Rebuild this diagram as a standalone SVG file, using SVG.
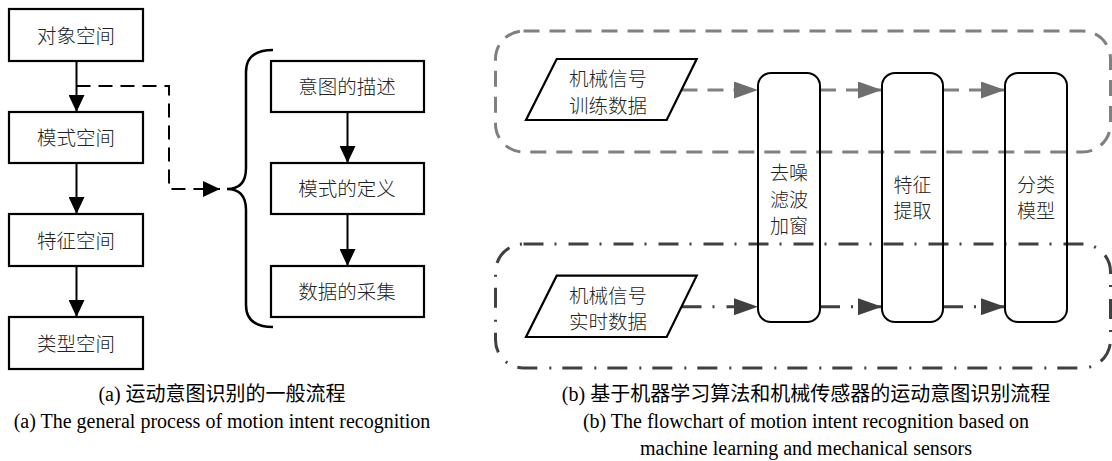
<svg xmlns="http://www.w3.org/2000/svg" width="1112" height="461" viewBox="0 0 1112 461">
<defs>
<style>
.box{fill:#fff;stroke:#000;stroke-width:2.2}
.rbox{fill:none;stroke:#000;stroke-width:2}
.t{font-family:"Noto Sans CJK SC","Liberation Sans",sans-serif;font-size:19.5px;font-weight:300;fill:#222;text-anchor:middle}
.t2{font-family:"Noto Sans CJK SC","Liberation Sans",sans-serif;font-size:19px;font-weight:300;fill:#222;text-anchor:middle}
.cap{font-family:"Liberation Serif","Noto Sans CJK SC",serif;font-size:20px;fill:#000;text-anchor:middle}
.capE{font-family:"Liberation Serif",serif;font-size:20px;fill:#000;text-anchor:middle}
.ln{fill:none;stroke:#000;stroke-width:2}
.dash{stroke-dasharray:14 8}
.gdash{fill:none;stroke:#808080;stroke-width:3;stroke-dasharray:16 10}
.dd{fill:none;stroke:#404040;stroke-width:3;stroke-dasharray:20 11 2 12}
</style>
<marker id="ah" markerUnits="userSpaceOnUse" markerWidth="17" markerHeight="16" refX="17" refY="8" orient="auto"><path d="M0,0 L17,8 L0,16 z" fill="#000"/></marker>
<marker id="ahg" markerUnits="userSpaceOnUse" markerWidth="24" markerHeight="17" refX="24" refY="8.5" orient="auto"><path d="M0,0 L24,8.5 L0,17 z" fill="#6e6e6e"/></marker>
<marker id="ahd" markerUnits="userSpaceOnUse" markerWidth="24" markerHeight="17" refX="24" refY="8.5" orient="auto"><path d="M0,0 L24,8.5 L0,17 z" fill="#404040"/></marker>
</defs>
<rect width="1112" height="461" fill="#fff"/>

<g id="train-group"><rect x="495.5" y="31" width="615" height="121" rx="28" ry="28" class="gdash"/></g>
<g id="realtime-group"><rect x="495.5" y="244" width="615" height="124" rx="28" ry="28" class="dd"/></g>

<g id="connectors">
<path class="ln" d="M76.5,61 V112" marker-end="url(#ah)"/>
<path class="ln" d="M76.5,163 V214" marker-end="url(#ah)"/>
<path class="ln" d="M76.5,266 V317" marker-end="url(#ah)"/>
<path class="ln dash" d="M76.5,86 H169 V189 H220" marker-end="url(#ah)"/>
<path class="ln" d="M347.5,112 V163" marker-end="url(#ah)"/>
<path class="ln" d="M347.5,214 V266" marker-end="url(#ah)"/>
<path d="M273,50 Q246,50 246,72 L246,168 Q246,189 227,189 Q246,189 246,210 L246,305 Q246,327 273,327" fill="none" stroke="#000" stroke-width="2.5"/>
<path class="gdash" d="M681.5,90 H758" marker-end="url(#ahg)"/>
<path class="gdash" d="M820,90 H882" marker-end="url(#ahg)"/>
<path class="gdash" d="M943,90 H1005" marker-end="url(#ahg)"/>
<path class="dd" d="M681.5,306.7 H758" marker-end="url(#ahd)"/>
<path class="dd" d="M820,306.7 H882" marker-end="url(#ahd)"/>
<path class="dd" d="M943,306.7 H1005" marker-end="url(#ahd)"/>
</g>

<g id="n-object"><rect class="box" x="9" y="9" width="134" height="52"/><text class="t" x="76" y="43">对象空间</text></g>
<g id="n-pattern"><rect class="box" x="9" y="112" width="134" height="51"/><text class="t" x="76" y="145">模式空间</text></g>
<g id="n-feature"><rect class="box" x="9" y="214" width="134" height="52"/><text class="t" x="76" y="247.5">特征空间</text></g>
<g id="n-type"><rect class="box" x="9" y="317" width="134" height="52"/><text class="t" x="76" y="350.5">类型空间</text></g>

<g id="n-intent"><rect class="box" x="271" y="61" width="153" height="51"/><text class="t" x="347" y="94">意图的描述</text></g>
<g id="n-define"><rect class="box" x="271" y="163" width="153" height="51"/><text class="t" x="347" y="196">模式的定义</text></g>
<g id="n-collect"><rect class="box" x="271" y="266" width="153" height="51"/><text class="t" x="347" y="299">数据的采集</text></g>

<g id="n-train"><polygon class="box" points="556.7,59 696.7,59 666.7,120 526,120"/><text class="t" x="608" y="86">机械信号</text><text class="t" x="608" y="113">训练数据</text></g>
<g id="n-realtime"><polygon class="box" points="556.7,275.7 696.7,275.7 666.7,337 526,337"/><text class="t" x="608" y="302.5">机械信号</text><text class="t" x="608" y="329">实时数据</text></g>

<g id="n-denoise"><rect class="rbox" x="758" y="73" width="62" height="249" rx="13"/><text class="t2" x="789" y="180">去噪</text><text class="t2" x="789" y="206.5">滤波</text><text class="t2" x="789" y="233">加窗</text></g>
<g id="n-extract"><rect class="rbox" x="882" y="73" width="61" height="249" rx="13"/><text class="t2" x="912.5" y="191.5">特征</text><text class="t2" x="912.5" y="218">提取</text></g>
<g id="n-classify"><rect class="rbox" x="1005" y="73" width="62" height="249" rx="13"/><text class="t2" x="1036" y="191.5">分类</text><text class="t2" x="1036" y="218">模型</text></g>

<g id="captions">
<text class="cap" x="222" y="401">(a) 运动意图识别的一般流程</text>
<text class="capE" x="222" y="428">(a) The general process of motion intent recognition</text>
<text class="cap" x="806" y="401">(b) 基于机器学习算法和机械传感器的运动意图识别流程</text>
<text class="capE" x="806" y="428">(b) The flowchart of motion intent recognition based on</text>
<text class="capE" x="806" y="455">machine learning and mechanical sensors</text>
</g>
</svg>
